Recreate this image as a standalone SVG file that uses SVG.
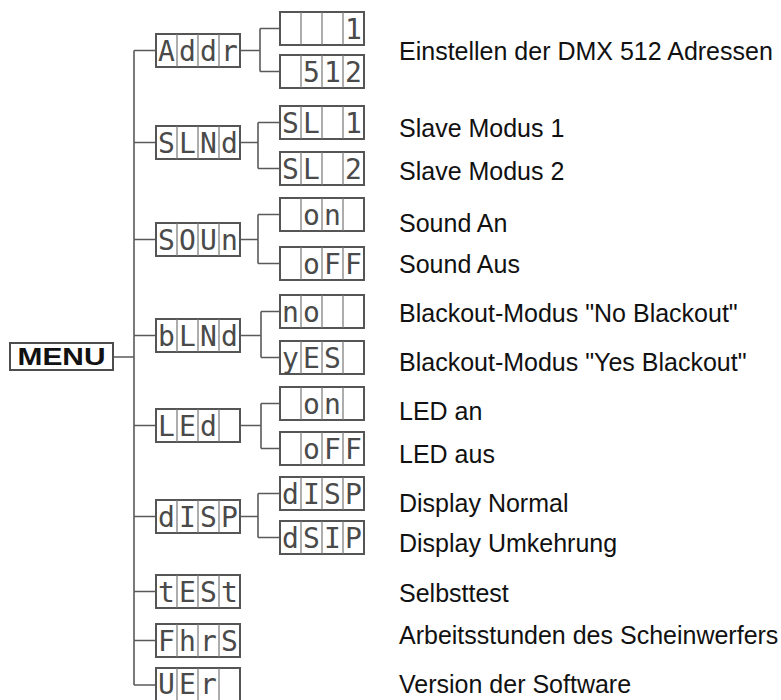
<svg xmlns="http://www.w3.org/2000/svg" xmlns:xlink="http://www.w3.org/1999/xlink" width="781" height="700" viewBox="0 0 781 700">
<style>
.box{fill:#fff;stroke:#555;stroke-width:2}
.div{stroke:#777;stroke-width:1.2;fill:none}
.seg{font-family:"DejaVu Sans Mono","Liberation Mono",monospace;font-size:28px;fill:#4a4a4a;text-anchor:middle}
.lbl{font-family:"Liberation Sans",Arial,sans-serif;font-size:25px;fill:#111}
.conn{stroke:#5a5a5a;stroke-width:1.6;fill:none}
.menu{font-family:"Liberation Sans",Arial,sans-serif;font-size:23px;font-weight:bold;fill:#111;text-anchor:middle}
</style>
<defs>
<g id="disp"><rect x="0" y="0" width="84" height="33" class="box"/><path d="M21 0V33M42 0V33M63 0V33" class="div"/></g>
</defs>
<rect width="781" height="700" fill="#fff"/>
<g id="connectors" class="conn">
<path d="M113 357H134M134 50.5V685"/>
<path d="M134 50.5H156M134 142.5H156M134 239.5H156M134 335.5H156M134 425.5H156M134 516.5H156M134 591.5H156M134 640.5H156M134 685H156"/>
<path d="M240 50.5H260M260 28.5V71.5M260 28.5H280M260 71.5H280"/>
<path d="M240 142.5H258M258 122.5V168.5M258 122.5H280M258 168.5H280"/>
<path d="M240 239.5H258M258 214.5V263.5M258 214.5H280M258 263.5H280"/>
<path d="M240 335.5H261M261 311.5V357.5M261 311.5H280M261 357.5H280"/>
<path d="M240 425.5H261M261 403.5V448.5M261 403.5H280M261 448.5H280"/>
<path d="M240 516.5H258M258 493.5V537.5M258 493.5H280M258 537.5H280"/>
</g>
<g id="menu"><rect x="10" y="343" width="103" height="27" fill="#fff" stroke="#4d4d4d" stroke-width="2"/><text class="menu" x="61.5" y="365" textLength="88" lengthAdjust="spacingAndGlyphs">MENU</text></g>

<g id="addr"><use xlink:href="#disp" x="156" y="34"/><text class="seg" x="166.5 187.5 208.5 229.5" y="61">Addr</text></g>
<g id="addr-1"><use xlink:href="#disp" x="280" y="12"/><text class="seg" x="353.5" y="39">1</text></g>
<g id="addr-512"><use xlink:href="#disp" x="280" y="55"/><text class="seg" x="311.5 332.5 353.5" y="82">512</text></g>

<g id="slnd"><use xlink:href="#disp" x="156" y="126"/><text class="seg" x="166.5 187.5 208.5 229.5" y="153">SLNd</text></g>
<g id="sl1"><use xlink:href="#disp" x="280" y="106"/><text class="seg" x="290.5 311.5 353.5" y="133">SL1</text></g>
<g id="sl2"><use xlink:href="#disp" x="280" y="152"/><text class="seg" x="290.5 311.5 353.5" y="179">SL2</text></g>

<g id="soun"><use xlink:href="#disp" x="156" y="223"/><text class="seg" x="166.5 187.5 208.5 229.5" y="250">SOUn</text></g>
<g id="sound-on"><use xlink:href="#disp" x="280" y="198"/><text class="seg" x="311.5 332.5" y="225">on</text></g>
<g id="sound-off"><use xlink:href="#disp" x="280" y="247"/><text class="seg" x="311.5 332.5 353.5" y="274">oFF</text></g>

<g id="blnd"><use xlink:href="#disp" x="156" y="319"/><text class="seg" x="166.5 187.5 208.5 229.5" y="346">bLNd</text></g>
<g id="bl-no"><use xlink:href="#disp" x="280" y="295"/><text class="seg" x="290.5 311.5" y="322">no</text></g>
<g id="bl-yes"><use xlink:href="#disp" x="280" y="341"/><text class="seg" x="290.5 311.5 332.5" y="368">yES</text></g>

<g id="led"><use xlink:href="#disp" x="156" y="409"/><text class="seg" x="166.5 187.5 208.5" y="436">LEd</text></g>
<g id="led-on"><use xlink:href="#disp" x="280" y="387"/><text class="seg" x="311.5 332.5" y="414">on</text></g>
<g id="led-off"><use xlink:href="#disp" x="280" y="432"/><text class="seg" x="311.5 332.5 353.5" y="459">oFF</text></g>

<g id="disp-menu"><use xlink:href="#disp" x="156" y="500"/><text class="seg" x="166.5 187.5 208.5 229.5" y="527">dISP</text></g>
<g id="disp-normal"><use xlink:href="#disp" x="280" y="477"/><text class="seg" x="290.5 311.5 332.5 353.5" y="504">dISP</text></g>
<g id="disp-invert"><use xlink:href="#disp" x="280" y="521"/><text class="seg" x="290.5 311.5 332.5 353.5" y="548">dSIP</text></g>

<g id="test"><use xlink:href="#disp" x="156" y="575"/><text class="seg" x="166.5 187.5 208.5 229.5" y="602">tESt</text></g>
<g id="fhrs"><use xlink:href="#disp" x="156" y="624"/><text class="seg" x="166.5 187.5 208.5 229.5" y="651">FhrS</text></g>
<g id="ver"><use xlink:href="#disp" x="156" y="668"/><text class="seg" x="166.5 187.5 208.5" y="694">UEr</text></g>

<g id="labels">
<text class="lbl" x="399" y="60">Einstellen der DMX 512 Adressen</text>
<text class="lbl" x="399" y="137">Slave Modus 1</text>
<text class="lbl" x="399" y="180">Slave Modus 2</text>
<text class="lbl" x="399" y="232">Sound An</text>
<text class="lbl" x="399" y="273">Sound Aus</text>
<text class="lbl" x="399" y="322">Blackout-Modus "No Blackout"</text>
<text class="lbl" x="399" y="371">Blackout-Modus "Yes Blackout"</text>
<text class="lbl" x="399" y="420">LED an</text>
<text class="lbl" x="399" y="463">LED aus</text>
<text class="lbl" x="399" y="512">Display Normal</text>
<text class="lbl" x="399" y="552">Display Umkehrung</text>
<text class="lbl" x="399" y="602">Selbsttest</text>
<text class="lbl" x="399" y="644">Arbeitsstunden des Scheinwerfers</text>
<text class="lbl" x="399" y="693">Version der Software</text>
</g>
</svg>
